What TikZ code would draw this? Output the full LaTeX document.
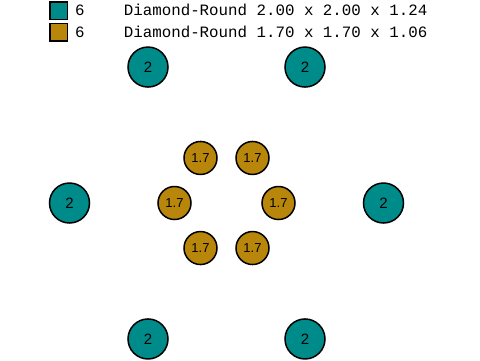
\documentclass[tikz,border=0pt]{standalone}
\usepackage{fontspec}
\setmainfont{Liberation Sans}
\setmonofont{Liberation Mono}
\usetikzlibrary{positioning,calc}

\definecolor{gemteal}{RGB}{0,139,139}
\definecolor{gemgold}{RGB}{184,134,11}

\begin{document}
\begin{tikzpicture}[x=1pt,y=-1pt,
        stone/.style={circle,draw=black,line width=1.5pt,inner sep=0pt},
        bigstone/.style={stone,fill=gemteal,minimum size=40pt,font=\fontsize{15}{15}\selectfont},
        smallstone/.style={stone,fill=gemgold,minimum size=33pt,font=\fontsize{13}{13}\selectfont},
        keybox/.style={draw=black,line width=1.5pt,minimum size=17.5pt,inner sep=0pt},
        keytext/.style={anchor=base west,inner sep=0pt,font=\ttfamily\fontsize{15.8}{16}\selectfont}]
        \useasboundingbox (0,0) rectangle (480,360);
        % legend
        \node [keybox,fill=gemteal] (key1) at (58.5,10.5) {};
        \node [keytext] (count1) at (75,15.5) {6};
        \node [keytext] (desc1) at (123.7,15.5) {Diamond-Round 2.00 x 2.00 x 1.24};
        \node [keybox,fill=gemgold] (key2) at (58.5,32) {};
        \node [keytext] (count2) at (75,37) {6};
        \node [keytext] (desc2) at (123.7,37) {Diamond-Round 1.70 x 1.70 x 1.06};
        % stones
        \coordinate (mid) at (226.5,203);
        \foreach \a [count=\i] in {0,60,...,300} {
            \node [bigstone] (big\i) at ($(mid)+(\a:157)$) {2};
            \node [smallstone] (small\i) at ($(mid)+(\a:52)$) {1.7};
        }
\end{tikzpicture}
\end{document}
